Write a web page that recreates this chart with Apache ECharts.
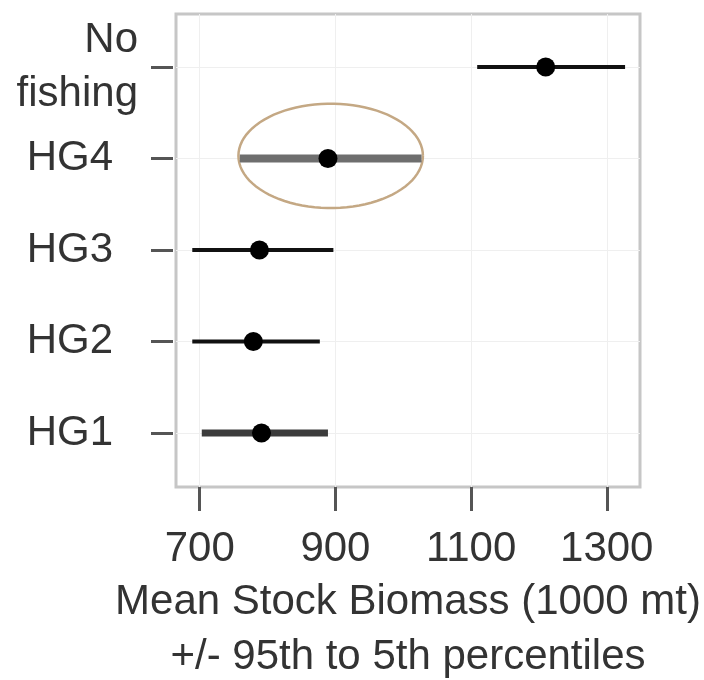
<!DOCTYPE html>
<html>
<head>
<meta charset="utf-8">
<script src="https://cdn.jsdelivr.net/npm/echarts@6/dist/echarts.min.js"></script>
<style>
  html, body { margin: 0; padding: 0; background: #fff; }
  #chart { width: 704px; height: 680px; }
</style>
</head>
<body>
<div id="chart"></div>
<script>
// scenarios, bottom to top
const categories = ['HG1', 'HG2', 'HG3', 'HG4', 'No\nfishing'];
const lowValues = [703, 689, 689, 759, 1109];   // 5th percentile
const meanValues = [791, 779, 788, 889, 1210];
const highValues = [889, 877, 897, 1027, 1327]; // 95th percentile
const xTicks = [700, 900, 1100, 1300];
const rowTicks = [1, 2, 3, 4, 5];
// circled scenario
const ellipseRow = [4.03];
const ellipseCenter = [893];
const ellipseHalfWidth = [136];
const ellipseHalfHeight = [0.57];

const textColor = '#333';
const fontFamily = "'Liberation Sans', Arial, sans-serif";

// line look per scenario
const barStyle = {
  'HG1': { width: 7, color: '#3c3c3c' },
  'HG2': { width: 4, color: '#111' },
  'HG3': { width: 4, color: '#111' },
  'HG4': { width: 8, color: '#6e6e6e' },
  'No\nfishing': { width: 4, color: '#111' }
};

let myChart = echarts.init(document.getElementById('chart'));

let barData = categories.map((c, i) => [i + 1, lowValues[i], meanValues[i], highValues[i]]);
let ellipseData = ellipseRow.map((r, i) => [r, ellipseCenter[i], ellipseHalfWidth[i], ellipseHalfHeight[i]]);

var option = {
  animation: false,
  grid: {
    left: 176, right: 64, top: 14, bottom: 193,
    outerBoundsMode: 'none',
    containLabel: false,
    show: true,
    borderColor: '#c6c6c6',
    borderWidth: 3
  },
  xAxis: {
    type: 'value',
    min: 665,
    max: 1349,
    axisLine: { show: true, onZero: false, lineStyle: { color: 'rgba(0,0,0,0)' } },
    axisTick: {
      show: true, inside: false, length: 24, customValues: xTicks.slice(),
      lineStyle: { color: '#555', width: 3 }
    },
    axisLabel: {
      customValues: xTicks.slice(),
      margin: 41,
      fontSize: 42,
      color: textColor,
      fontFamily: fontFamily,
      formatter: function (v) { return String(v); }
    },
    splitLine: { show: true, lineStyle: { color: '#efefef', width: 1 } },
    name: 'Mean Stock Biomass (1000 mt)\n+/- 95th to 5th percentiles',
    nameLocation: 'middle',
    nameGap: 86,
    nameTextStyle: {
      fontSize: 42, lineHeight: 55, color: textColor, fontFamily: fontFamily
    }
  },
  yAxis: {
    type: 'value',
    min: 0.41,
    max: 5.58,
    offset: 3,
    axisLine: { show: false },
    axisTick: {
      show: true, length: 22, customValues: rowTicks,
      lineStyle: { color: '#555', width: 3 }
    },
    axisLabel: {
      customValues: rowTicks,
      margin: 35,
      fontSize: 42,
      lineHeight: 54,
      color: textColor,
      fontFamily: fontFamily,
      formatter: function (v) {
        let name = categories[Math.round(v) - 1];
        return name.indexOf('\n') >= 0 ? name : '{hg|' + name + '}';
      },
      rich: {
        hg: { fontSize: 42, color: textColor, fontFamily: fontFamily, padding: [0, 25, 0, 0] }
      }
    },
    splitLine: { show: true, lineStyle: { color: '#efefef', width: 1 } }
  },
  series: [
    {
      type: 'custom',
      name: 'ellipse',
      data: ellipseData,
      renderItem: function (params, api) {
        let c = api.coord([api.value(1), api.value(0)]);
        let size = api.size([api.value(2), api.value(3)]);
        let pts = [];
        for (let k = 0; k <= 90; k++) {
          let t = k / 90 * Math.PI * 2;
          pts.push([c[0] + size[0] * Math.cos(t), c[1] + size[1] * Math.sin(t)]);
        }
        return {
          type: 'polyline',
          shape: { points: pts },
          style: { stroke: '#c4a884', lineWidth: 2.5, fill: null }
        };
      },
      z: 2
    },
    {
      type: 'custom',
      name: 'biomass',
      data: barData,
      renderItem: function (params, api) {
        let row = api.value(0);
        let p1 = api.coord([api.value(1), row]);
        let p2 = api.coord([api.value(3), row]);
        let pm = api.coord([api.value(2), row]);
        let st = barStyle[categories[row - 1]];
        return {
          type: 'group',
          children: [
            {
              type: 'line',
              shape: { x1: p1[0], y1: p1[1], x2: p2[0], y2: p2[1] },
              style: { stroke: st.color, lineWidth: st.width }
            },
            {
              type: 'circle',
              shape: { cx: pm[0], cy: pm[1], r: 9.5 },
              style: { fill: '#000' }
            }
          ]
        };
      },
      z: 3
    }
  ]
};

myChart.setOption(option);
window.addEventListener('resize', function () {
  myChart.resize();
});
</script>
</body>
</html>
